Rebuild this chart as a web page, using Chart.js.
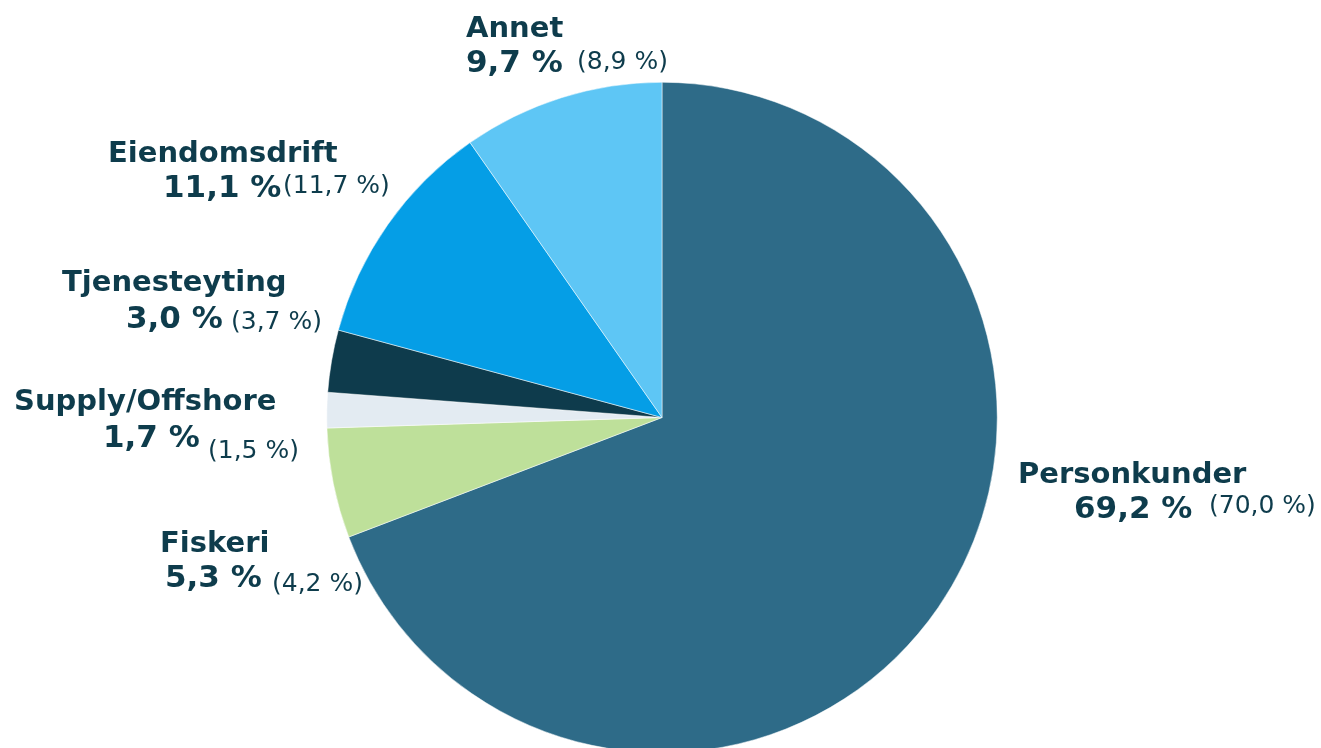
<!DOCTYPE html>
<html><head><meta charset="utf-8">
<script src="https://cdn.jsdelivr.net/npm/chart.js@4"></script>
<style>html,body{margin:0;padding:0;overflow:hidden;background:#fff;width:1321px;height:748px}#wrap{width:1321px;height:770px;position:relative}</style>
</head><body><div id="wrap"><canvas id="c" width="1321" height="770"></canvas></div>
<script>
const categories = ['Personkunder','Fiskeri','Supply/Offshore','Tjenesteyting','Eiendomsdrift','Annet'];
const shares = [69.2, 5.3, 1.7, 3.0, 11.1, 9.7];
const previousShares = [70.0, 4.2, 1.5, 3.7, 11.7, 8.9];

const colors = ['#2E6B88','#BEE09A','#E3EBF2','#0E3B4C','#059EE6','#5EC6F5'];
const labelPos = [
  {x:1018,y:483, vx:1074, vy:518, px:1209, py:513},
  {x:160,y:552, vx:165, vy:587, px:272, py:591},
  {x:14,y:410, vx:103, vy:447, px:208, py:458},
  {x:62,y:291, vx:126, vy:328, px:231, py:329},
  {x:108,y:162, vx:163, vy:197, px:283, py:193},
  {x:466,y:37, vx:466, vy:72, px:577, py:69}
];
const fmt = v => v.toFixed(1).replace('.', ',') + ' %';

const labelPlugin = {
  id:'labels',
  afterDraw(chart){
    const ctx = chart.ctx;
    ctx.save();
    ctx.fillStyle = '#0E3C4C';
    ctx.textBaseline = 'alphabetic';
    ctx.textAlign = 'left';
    categories.forEach((c,i)=>{
      const p = labelPos[i];
      ctx.font = 'bold 29px "DejaVu Sans", Verdana, sans-serif';
      ctx.fillText(c, p.x, p.y);
      ctx.font = 'bold 31px "DejaVu Sans", Verdana, sans-serif';
      ctx.fillText(fmt(shares[i]), p.vx, p.vy);
      ctx.font = '25px "DejaVu Sans", Verdana, sans-serif';
      ctx.fillText('(' + fmt(previousShares[i]) + ')', p.px, p.py);
    });
    ctx.restore();
  }
};

new Chart(document.getElementById('c'), {
  type:'pie',
  data:{labels:categories, datasets:[{data:shares, backgroundColor:colors, borderColor:'#ffffff', borderWidth:0.5}]},
  options:{
    responsive:false, animation:false,
    layout:{padding:{left:3,right:0,top:82,bottom:17}},
    plugins:{legend:{display:false}, tooltip:{enabled:false}}
  },
  plugins:[labelPlugin]
});
</script></body></html>
